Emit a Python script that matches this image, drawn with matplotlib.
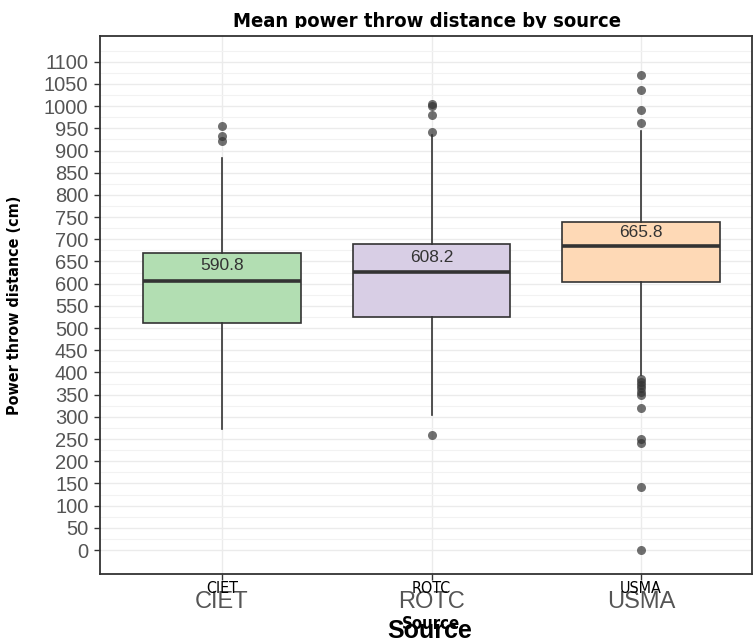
import numpy as np
import matplotlib
matplotlib.use('Agg')
import matplotlib.pyplot as plt
from matplotlib import font_manager as fm
from matplotlib.patches import Rectangle

# data
sources = ['CIET', 'ROTC', 'USMA']
means = [590.8, 608.2, 665.8]
q1 = [511, 526, 603]
medians = [605, 627, 684]
q3 = [669, 690, 739]
whisker_lo = [272, 304, 395]
whisker_hi = [883, 935, 943]
outliers = [
    [955, 933, 922],
    [1004, 1000, 981, 942, 259],
    [1071, 1037, 992, 962, 386, 379, 372, 364, 356, 349, 320, 250, 240, 141, 0],
]
fill_colors = ['#b2deb2', '#d8cee5', '#fed9b6']
y_ticks = list(range(0, 1101, 50))

names = {f.name for f in fm.fontManager.ttflist}
if 'Liberation Sans Narrow' in names:
    narrow = dict(family='Liberation Sans Narrow')
else:
    narrow = dict(family='DejaVu Sans', stretch='condensed')
sans = 'Liberation Sans' if 'Liberation Sans' in names else 'DejaVu Sans'

fig = plt.figure(figsize=(7.54, 6.44), dpi=100)
ax = fig.add_axes([99.5 / 754, 70 / 644, (752 - 99.5) / 754, (574 - 36) / 644])

stats = []
for i, s in enumerate(sources):
    stats.append(dict(label=s, q1=q1[i], med=medians[i], q3=q3[i],
                      whislo=whisker_lo[i], whishi=whisker_hi[i],
                      fliers=outliers[i]))

pos = np.arange(1, len(sources) + 1)
bp = ax.bxp(stats, positions=pos, widths=0.75, patch_artist=True,
            showcaps=False, zorder=3,
            boxprops=dict(edgecolor='#333333', linewidth=1.2),
            medianprops=dict(color='#333333', linewidth=2.6),
            whiskerprops=dict(color='#333333', linewidth=1.2),
            flierprops=dict(marker='o', markersize=6.5, markerfacecolor='#333333',
                            markeredgecolor='none', alpha=0.7))
for patch, c in zip(bp['boxes'], fill_colors):
    patch.set_facecolor(c)

for x, m in zip(pos, means):
    ax.text(x, m + 50, f'{m:.1f}', ha='center', va='center', fontsize=12.5,
            family=sans, color='#333333', zorder=4)

ax.set_xlim(0.415, 3.53)
ax.set_ylim(-54, 1158)
ax.set_yticks(y_ticks)
ax.set_yticks(np.arange(25, 1151, 50), minor=True)
ax.set_xticks(pos)
ax.set_xticklabels(sources, fontsize=17, family=sans, color='#555555')
ax.set_yticklabels([str(v) for v in y_ticks], fontsize=14.5, family=sans, color='#555555')
ax.tick_params(axis='both', which='major', length=4, width=1, color='#333333')
ax.tick_params(axis='y', which='major', pad=4)
ax.tick_params(axis='x', which='major', pad=8)
ax.tick_params(axis='y', which='minor', length=0)

ax.grid(True, which='major', color='#ebebeb', linewidth=1, zorder=0)
ax.grid(True, which='minor', axis='y', color='#f2f2f2', linewidth=0.8, zorder=0)
ax.set_axisbelow(True)
for sp in ax.spines.values():
    sp.set_color('#333333')
    sp.set_linewidth(1.3)

# small overlaid tick labels (second rendering layer)
for x, s in zip(pos, sources):
    ax.text(x, -0.013, s, transform=ax.get_xaxis_transform(), ha='center', va='top',
            fontsize=11.5, color='black', **narrow)

# large axis title, then the small overlaid one
fig.text(430 / 754, 1 - 631 / 644, 'Source', ha='center', va='center', fontsize=18,
         fontweight='bold', family=sans, color='black')
fig.text(431 / 754, 1 - 624 / 644, 'Source', ha='center', va='center', fontsize=12,
         fontweight='bold', color='black', **narrow)

fig.text(15 / 754, 1 - 305 / 644, 'Power throw distance (cm)', rotation=90,
         ha='center', va='center', fontsize=11.5, fontweight='bold', color='black', **narrow)

title = fig.text(427 / 754, 1 - 27 / 644, 'Mean power throw distance by source',
                 ha='center', va='baseline', fontsize=14.5, fontweight='bold',
                 color='black', **narrow)
clip = Rectangle((0, 1 - 28 / 644), 1, 28 / 644, transform=fig.transFigure,
                 visible=False)
fig.add_artist(clip)
title.set_clip_path(clip)

fig.savefig('out.png', dpi=100)
